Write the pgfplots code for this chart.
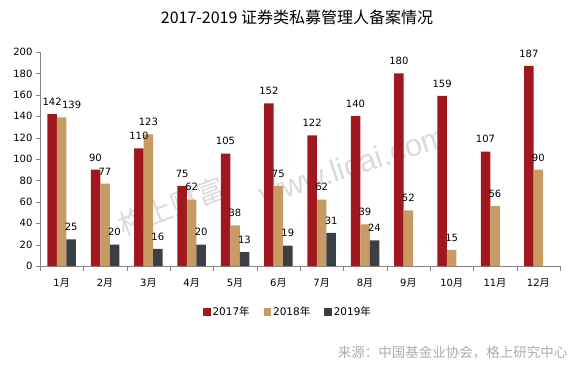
\documentclass[border=0pt]{standalone}
\usepackage{pgfplots}
\pgfplotsset{compat=1.18}
\usepackage{fontspec}
\setmainfont{DejaVu Sans}
\newfontfamily\cjk{Noto Sans CJK SC}
\newfontfamily\wm{Liberation Sans}
\definecolor{c17}{HTML}{A0181E}
\definecolor{c18}{HTML}{C89B64}
\definecolor{c19}{HTML}{3C3F46}
\definecolor{axgray}{HTML}{868686}
\definecolor{wmgray}{HTML}{DADADA}
\newcommand\yue{{\cjk 月}}
\newcommand\nian{{\cjk 年}}
\begin{document}
\begin{tikzpicture}
\path[use as bounding box] (0pt,0pt) rectangle (574pt,368pt);
\node[rotate=21, text=wmgray, font=\cjk\fontsize{28}{28}\selectfont] at (172pt,162pt) {格上财富};
\node[rotate=18, text=wmgray, font=\wm\fontsize{31}{31}\selectfont] at (353pt,203pt) {www.licai.com};
\node[font=\cjk\fontsize{16}{16}\selectfont] at (297pt,351pt) {2017-2019 证券类私募管理人备案情况};
\begin{axis}[
  at={(40pt,102pt)}, anchor=south west,
  scale only axis, width=520pt, height=214pt,
  xmin=0.5, xmax=12.5, ymin=0, ymax=200,
  ytick={0,20,...,200},
  xtick={1,...,12},
  xticklabels={1\yue,2\yue,3\yue,4\yue,5\yue,6\yue,7\yue,8\yue,9\yue,10\yue,11\yue,12\yue},
  minor xtick={0.5,1.5,...,12.5},
  axis x line=bottom, axis y line=left,
  axis line style={-, draw=axgray},
  tick align=outside,
  major x tick style={draw=none},
  minor x tick style={draw=axgray},
  minor tick length=5pt,
  major y tick style={draw=axgray},
  major tick length=4pt,
  /pgf/number format/assume math mode=true,
  ticklabel style={font=\fontsize{10}{10}\selectfont},
  xticklabel style={yshift=-5pt},
  ybar, bar width=9.5pt,
  nodes near coords,
  every node near coord/.append style={font=\fontsize{10}{10}\selectfont, text=black, yshift=5pt},
  legend style={at={(0.477,-0.215)}, anchor=center, legend columns=3, draw=none,
    font=\fontsize{10.5}{10.5}\selectfont, /tikz/every even column/.append style={column sep=12pt}},
  legend image code/.code={\fill[#1] (0pt,-3.7pt) rectangle (7.4pt,3.7pt);},
]
\addplot[fill=c17, draw=none, bar shift=-9.5pt] coordinates {(1,142) (2,90) (3,110) (4,75) (5,105) (6,152) (7,122) (8,140) (9,180) (10,159) (11,107) (12,187)};
\addlegendentry{2017\nian}
\addplot[fill=c18, draw=none, bar shift=0pt,
  visualization depends on={x \as \myx},
  every node near coord/.append style={xshift={(\myx<1.5)*10}}] coordinates {(1,139) (2,77) (3,123) (4,62) (5,38) (6,75) (7,62) (8,39) (9,52) (10,15) (11,56) (12,90)};
\addlegendentry{2018\nian}
\addplot[fill=c19, draw=none, bar shift=9.5pt] coordinates {(1,25) (2,20) (3,16) (4,20) (5,13) (6,19) (7,31) (8,24)};
\addlegendentry{2019\nian}
\end{axis}
\node[anchor=east, text=gray!65, font=\cjk\fontsize{13.5}{13.5}\selectfont] at (571pt,16pt) {来源：中国基金业协会，格上研究中心};
\end{tikzpicture}
\end{document}
